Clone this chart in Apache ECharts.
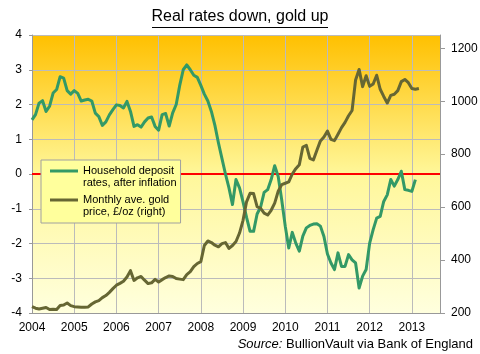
<!DOCTYPE html>
<html>
<head>
<meta charset="utf-8">
<script src="https://cdn.jsdelivr.net/npm/echarts/dist/echarts.min.js"></script>
<style>
html, body { margin: 0; padding: 0; background: #fff; }
#divChart { width: 480px; height: 354px; }
</style>
</head>
<body>
<div id="divChart"></div>
<script>
var years = [2004, 2005, 2006, 2007, 2008, 2009, 2010, 2011, 2012, 2013];
var goldTicks = [200, 400, 600, 800, 1000, 1200];

// household deposit rates after inflation, %, monthly from Jan 2004
var realRate = [
    1.56, 1.71, 2.04, 2.11, 1.8, 1.95, 2.33, 2.43, 2.8, 2.76,
    2.4, 2.3, 2.4, 2.32, 2.1, 2.13, 2.15, 2.1, 1.75, 1.65,
    1.4, 1.5, 1.7, 1.85, 1.99, 1.97, 1.9, 2.09, 1.8, 1.37,
    1.42, 1.35, 1.5, 1.61, 1.64, 1.37, 1.26, 1.71, 1.74, 1.38,
    1.76, 2.0, 2.55, 3.0, 3.14, 3.0, 2.84, 2.78, 2.55, 2.3,
    2.1, 1.8, 1.4, 0.9, 0.45, 0.0, -0.4, -0.88, -0.16, -0.4,
    -0.8, -1.25, -1.65, -1.65, -1.15, -0.95, -0.53, -0.45, -0.16, 0.24,
    -0.07, -0.75, -1.5, -2.13, -1.68, -1.99, -2.22, -1.79, -1.55, -1.48,
    -1.44, -1.43, -1.5, -1.8, -2.3, -2.56, -2.75, -2.27, -2.66, -2.66,
    -2.32, -2.47, -2.56, -3.28, -2.94, -2.75, -1.99, -1.6, -1.27, -1.22,
    -0.79, -0.6, -0.16, -0.35, -0.16, 0.08, -0.45, -0.47, -0.5, -0.16
];

// monthly average gold price, GBP/oz
var goldPrice = [
    224, 218, 215, 218, 221, 213, 214, 213, 228, 230,
    238, 228, 224, 223, 222, 222, 223, 234, 242, 247,
    258, 266, 278, 292, 305, 312, 320, 336, 360, 323,
    333, 338, 324, 311, 314, 327, 317, 326, 334, 340,
    338, 330, 328, 326, 345, 356, 375, 387, 394, 455,
    472, 466, 456, 450, 462, 466, 444, 455, 470, 502,
    550, 620, 652, 651, 602, 595, 577, 570, 588, 615,
    660, 685, 690, 695, 725, 745, 760, 827, 833, 784,
    778, 815, 850, 865, 887, 856, 851, 875, 900, 920,
    945, 965, 1080, 1120, 1055, 1096, 1056, 1065, 1098, 1045,
    1018, 993, 1022, 1026, 1040, 1074, 1082, 1070, 1048, 1045,
    1048
];

var seriesNames = ['Household deposit\nrates, after inflation', 'Monthly ave. gold\nprice, £/oz (right)'];

var myChart;

function monthPoints(values) {
    var pts = [];
    for (var i = 0; i < values.length; i++) {
        pts.push([years[0] + i / 12, values[i]]);
    }
    return pts;
}

function initChart() {
    var font = 'Arial, "Liberation Sans", sans-serif';
    var option = {
        animation: false,
        textStyle: { fontFamily: font },
        title: [{
            text: 'Real rates down, gold up',
            left: 'center',
            top: 9,
            padding: 0,
            textStyle: { fontSize: 16, fontWeight: 'normal', color: '#000' }
        }, {
            text: '{i|Source:} BullionVault via Bank of England',
            right: 7,
            top: 338,
            padding: 0,
            textStyle: {
                fontSize: 13, fontWeight: 'normal', color: '#000',
                rich: { i: { fontStyle: 'italic', fontSize: 13, color: '#000' } }
            }
        }],
        graphic: [{
            type: 'line',
            shape: { x1: 152, y1: 27.5, x2: 328, y2: 27.5 },
            style: { stroke: '#000', lineWidth: 1 }
        }],
        grid: {
            left: 32, right: 40, top: 35, bottom: 41,
            show: true,
            borderWidth: 0,
            outerBoundsMode: 'none',
            backgroundColor: new echarts.graphic.LinearGradient(0, 0, 0, 1, [
                { offset: 0, color: '#FFC000' },
                { offset: 0.5, color: '#FFF79A' },
                { offset: 1, color: '#FFFFDE' }
            ])
        },
        legend: {
            data: seriesNames,
            orient: 'vertical',
            left: 41,
            top: 160,
            padding: [5, 4, 5, 9],
            itemGap: 5,
            itemWidth: 28,
            itemHeight: 24,
            icon: 'path://M0,0L0,0M0,4.5L28,4.5L28,7.5L0,7.5ZM28,24L28,24',
            itemStyle: { borderWidth: 0 },
            backgroundColor: '#FFFF9C',
            borderColor: '#A0A0A0',
            borderWidth: 1,
            textStyle: { fontSize: 11, lineHeight: 12, color: '#000' }
        },
        xAxis: {
            type: 'value',
            min: 2004,
            max: 2013 + 8 / 12,
            axisLine: { show: true, onZero: false, lineStyle: { color: '#999' } },
            axisTick: { show: false, customValues: years },
            axisLabel: {
                customValues: years,
                color: '#000',
                fontSize: 12,
                margin: 9,
                formatter: function (v) { return String(v); }
            },
            splitLine: { show: true, lineStyle: { color: '#BBB' } }
        },
        yAxis: [{
            type: 'value',
            min: -4,
            max: 4,
            interval: 1,
            axisLine: { show: true, lineStyle: { color: '#999' } },
            axisTick: { show: true, length: 3, lineStyle: { color: '#999' } },
            axisLabel: { color: '#000', fontSize: 12, margin: 10 },
            splitLine: { show: true, lineStyle: { color: '#BBB' } }
        }, {
            type: 'value',
            position: 'right',
            min: 200,
            max: 1250,
            axisLine: { show: true, lineStyle: { color: '#999' } },
            axisTick: { show: true, length: 5, customValues: goldTicks, lineStyle: { color: '#999' } },
            axisLabel: {
                customValues: goldTicks,
                color: '#000',
                fontSize: 12,
                margin: 11,
                formatter: function (v) { return String(v); }
            },
            splitLine: { show: false }
        }],
        series: [{
            name: seriesNames[0],
            type: 'line',
            yAxisIndex: 0,
            data: monthPoints(realRate),
            symbol: 'none',
            color: '#339966',
            lineStyle: { color: '#339966', width: 3, join: 'round' },
            emphasis: { disabled: true },
            markLine: {
                silent: true,
                z: 1,
                symbol: 'none',
                label: { show: false },
                lineStyle: { color: '#FF0000', width: 2, type: 'solid' },
                data: [{ yAxis: 0 }]
            }
        }, {
            name: seriesNames[1],
            type: 'line',
            yAxisIndex: 1,
            data: monthPoints(goldPrice),
            symbol: 'none',
            color: '#666633',
            lineStyle: { color: '#666633', width: 3, join: 'round' },
            emphasis: { disabled: true }
        }]
    };
    myChart.setOption(option);
}

myChart = echarts.init(document.getElementById('divChart'));
initChart();
</script>
</body>
</html>
